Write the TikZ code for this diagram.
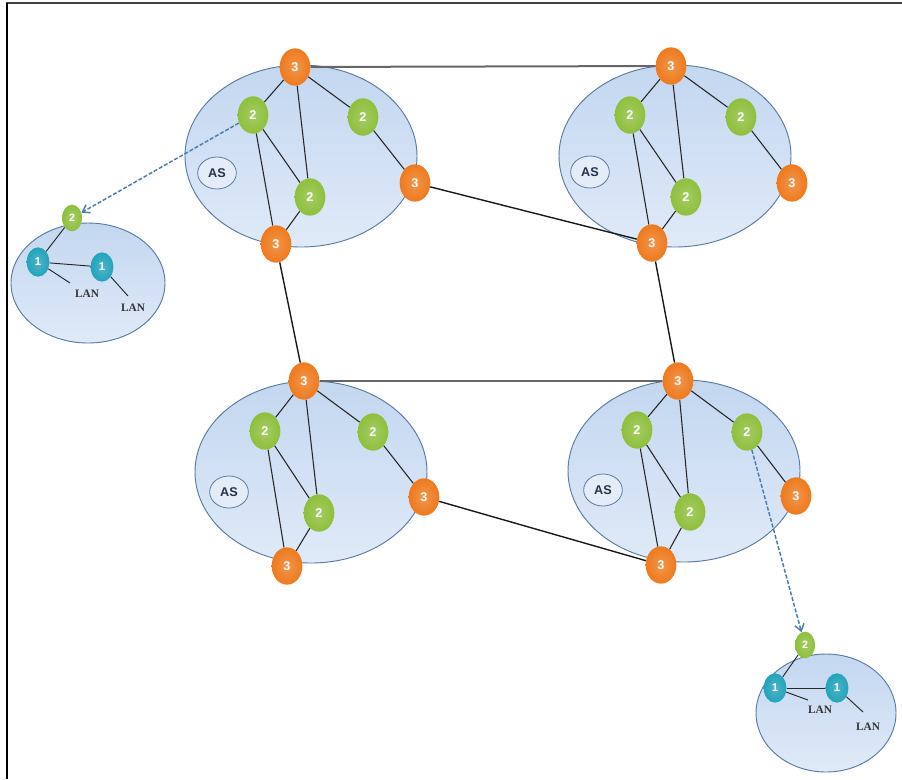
\documentclass[tikz,border=0pt]{standalone}
\usepackage{fontspec}
\setmainfont{Liberation Serif}
\setsansfont{Liberation Sans}
\usetikzlibrary{shapes.geometric,arrows.meta}
\definecolor{astop}{HTML}{C3D7F0}
\definecolor{asbot}{HTML}{E0EAF8}
\definecolor{asline}{HTML}{5A7BA3}
\definecolor{tagfill}{HTML}{E4ECF8}
\definecolor{tagtext}{HTML}{26324A}
\definecolor{orng}{HTML}{EE7A1E}
\definecolor{grn}{HTML}{8EBF3D}
\definecolor{cyn}{HTML}{22A3BA}
\definecolor{dashc}{HTML}{4A7DAE}
\tikzset{
  asarea/.style={ellipse, draw=asline, line width=0.7pt, top color=astop, bottom color=asbot, minimum width=174pt, minimum height=136.5pt, inner sep=0pt},
  lanarea/.style={ellipse, draw=asline, line width=0.7pt, top color=astop, bottom color=asbot, inner sep=0pt},
  astag/.style={ellipse, draw=asline, line width=0.6pt, fill=tagfill, minimum width=29pt, minimum height=24pt, inner sep=0pt, font=\sffamily\bfseries\fontsize{9.5}{11}\selectfont, text=tagtext},
  rthree/.style={ellipse, inner color=orng!80!white, outer color=orng, minimum width=23pt, minimum height=28pt, inner sep=0pt, text=white, font=\sffamily\bfseries\fontsize{9.5}{10}\selectfont},
  rtwo/.style={rthree, inner color=grn!80!white, outer color=grn},
  lantwo/.style={ellipse, inner color=grn!80!white, outer color=grn, minimum width=15pt, minimum height=20pt, inner sep=0pt, text=white, font=\sffamily\bfseries\fontsize{8}{9}\selectfont},
  lanone/.style={lantwo, inner color=cyn!80!white, outer color=cyn, minimum width=17pt, minimum height=22pt, font=\sffamily\bfseries\fontsize{8.5}{9}\selectfont},
  inner/.style={draw=black!85, line width=0.8pt},
  inter/.style={draw=black!90, line width=1.05pt},
  hinter/.style={draw=black!60, line width=1.5pt},
  lanlink/.style={draw=black!85, line width=0.7pt},
  lantext/.style={font=\bfseries\fontsize{8.5}{9}\selectfont, text=black!80, inner sep=0pt},
  dasharrow/.style={draw=dashc, line width=1.1pt, dash pattern=on 3pt off 1.4pt, -{Straight Barb[length=5pt,width=7pt]}},
}
\begin{document}
\begin{tikzpicture}[x=0.75pt,y=-0.75pt]
\useasboundingbox (0,0) rectangle (902,779);
% frame
\draw[black!75, line width=1.1pt] (6,3) -- (902,3);
\draw[black, line width=1.6pt] (7,2.5) -- (7,779);

% AS areas
\node[asarea] (tlAS) at (301,156) {};
\node[asarea] (trAS) at (675,156) {};
\node[asarea] (blAS) at (311,472) {};
\node[asarea] (brAS) at (684,471) {};
\node[lanarea, minimum width=115.5pt, minimum height=90pt] (lLAN) at (88,283) {};
\node[lanarea, minimum width=105pt, minimum height=88.5pt] (rLAN) at (826,713) {};

% AS tags
\node[astag] (tltag) at (217,173) {AS};
\node[astag] (trtag) at (590,172) {AS};
\node[astag] (bltag) at (229,492) {AS};
\node[astag] (brtag) at (603,490) {AS};

% top-left AS routers
\node[rthree] (tl3t) at (295,67) {3};
\node[rtwo]   (tl2a) at (253,115) {2};
\node[rtwo]   (tl2b) at (363,117) {2};
\node[rthree] (tl3r) at (415,183) {3};
\node[rtwo]   (tl2c) at (310,197) {2};
\node[rthree] (tl3b) at (276,244) {3};
% top-right AS routers
\node[rthree] (tr3t) at (671,66) {3};
\node[rtwo]   (tr2a) at (630,115) {2};
\node[rtwo]   (tr2b) at (741,117) {2};
\node[rthree] (tr3r) at (792,183) {3};
\node[rtwo]   (tr2c) at (686,197) {2};
\node[rthree] (tr3b) at (652,243) {3};
% bottom-left AS routers
\node[rthree] (bl3t) at (304,381) {3};
\node[rtwo]   (bl2a) at (265,431) {2};
\node[rtwo]   (bl2b) at (373,432) {2};
\node[rthree] (bl3r) at (424,497) {3};
\node[rtwo]   (bl2c) at (319,513) {2};
\node[rthree] (bl3b) at (287,566) {3};
% bottom-right AS routers
\node[rthree] (br3t) at (678,381) {3};
\node[rtwo]   (br2a) at (637,430) {2};
\node[rtwo]   (br2b) at (747,432) {2};
\node[rthree] (br3r) at (796,496) {3};
\node[rtwo]   (br2c) at (690,512) {2};
\node[rthree] (br3b) at (661,565) {3};

% intra-AS links
\foreach \p in {tl,tr,bl,br}{
  \draw[inner] (\p3t) -- (\p2a);
  \draw[inner] (\p3t) -- (\p2c);
  \draw[inner] (\p3t) -- (\p2b);
  \draw[inner] (\p2a) -- (\p2c);
  \draw[inner] (\p2a) -- (\p3b);
  \draw[inner] (\p2c) -- (\p3b);
  \draw[inner] (\p2b) -- (\p3r);
}

% inter-AS links
\draw[hinter] (tl3t) -- (tr3t);
\draw[hinter] (bl3t) -- (br3t);
\draw[inter] (tl3r) -- (tr3b);
\draw[inter] (tl3b) -- (bl3t);
\draw[inter] (tr3b) -- (br3t);
\draw[inter] (bl3r) -- (br3b);

% left LAN cluster
\node[lantwo] (lg2) at (72,218) {2};
\node[lanone] (l1a) at (38,262) {1};
\node[lanone] (l1b) at (102,267) {1};
\coordinate (lendA) at (70,283);
\coordinate (lendB) at (128,296);
\draw[lanlink] (lg2) -- (l1a);
\draw[lanlink] (l1a) -- (l1b);
\draw[lanlink] (l1a) -- (lendA);
\draw[lanlink] (l1b) -- (lendB);
\node[lantext] (lLANa) at (87,294) {LAN};
\node[lantext] (lLANb) at (133,308) {LAN};

% right LAN cluster
\node[lantwo] (rg2) at (805,645) {2};
\node[lanone] (r1a) at (775,688) {1};
\node[lanone] (r1b) at (837,688) {1};
\coordinate (rendA) at (808,700);
\coordinate (rendB) at (863,712);
\draw[lanlink] (rg2) -- (r1a);
\draw[lanlink] (r1a) -- (r1b);
\draw[lanlink] (r1a) -- (rendA);
\draw[lanlink] (r1b) -- (rendB);
\node[lantext] (rLANa) at (820,710) {LAN};
\node[lantext] (rLANb) at (868,727) {LAN};

% dashed links to LANs
\draw[dasharrow] (tl2a) -- (lg2);
\draw[dasharrow] (br2b) -- (rg2);
\end{tikzpicture}
\end{document}
